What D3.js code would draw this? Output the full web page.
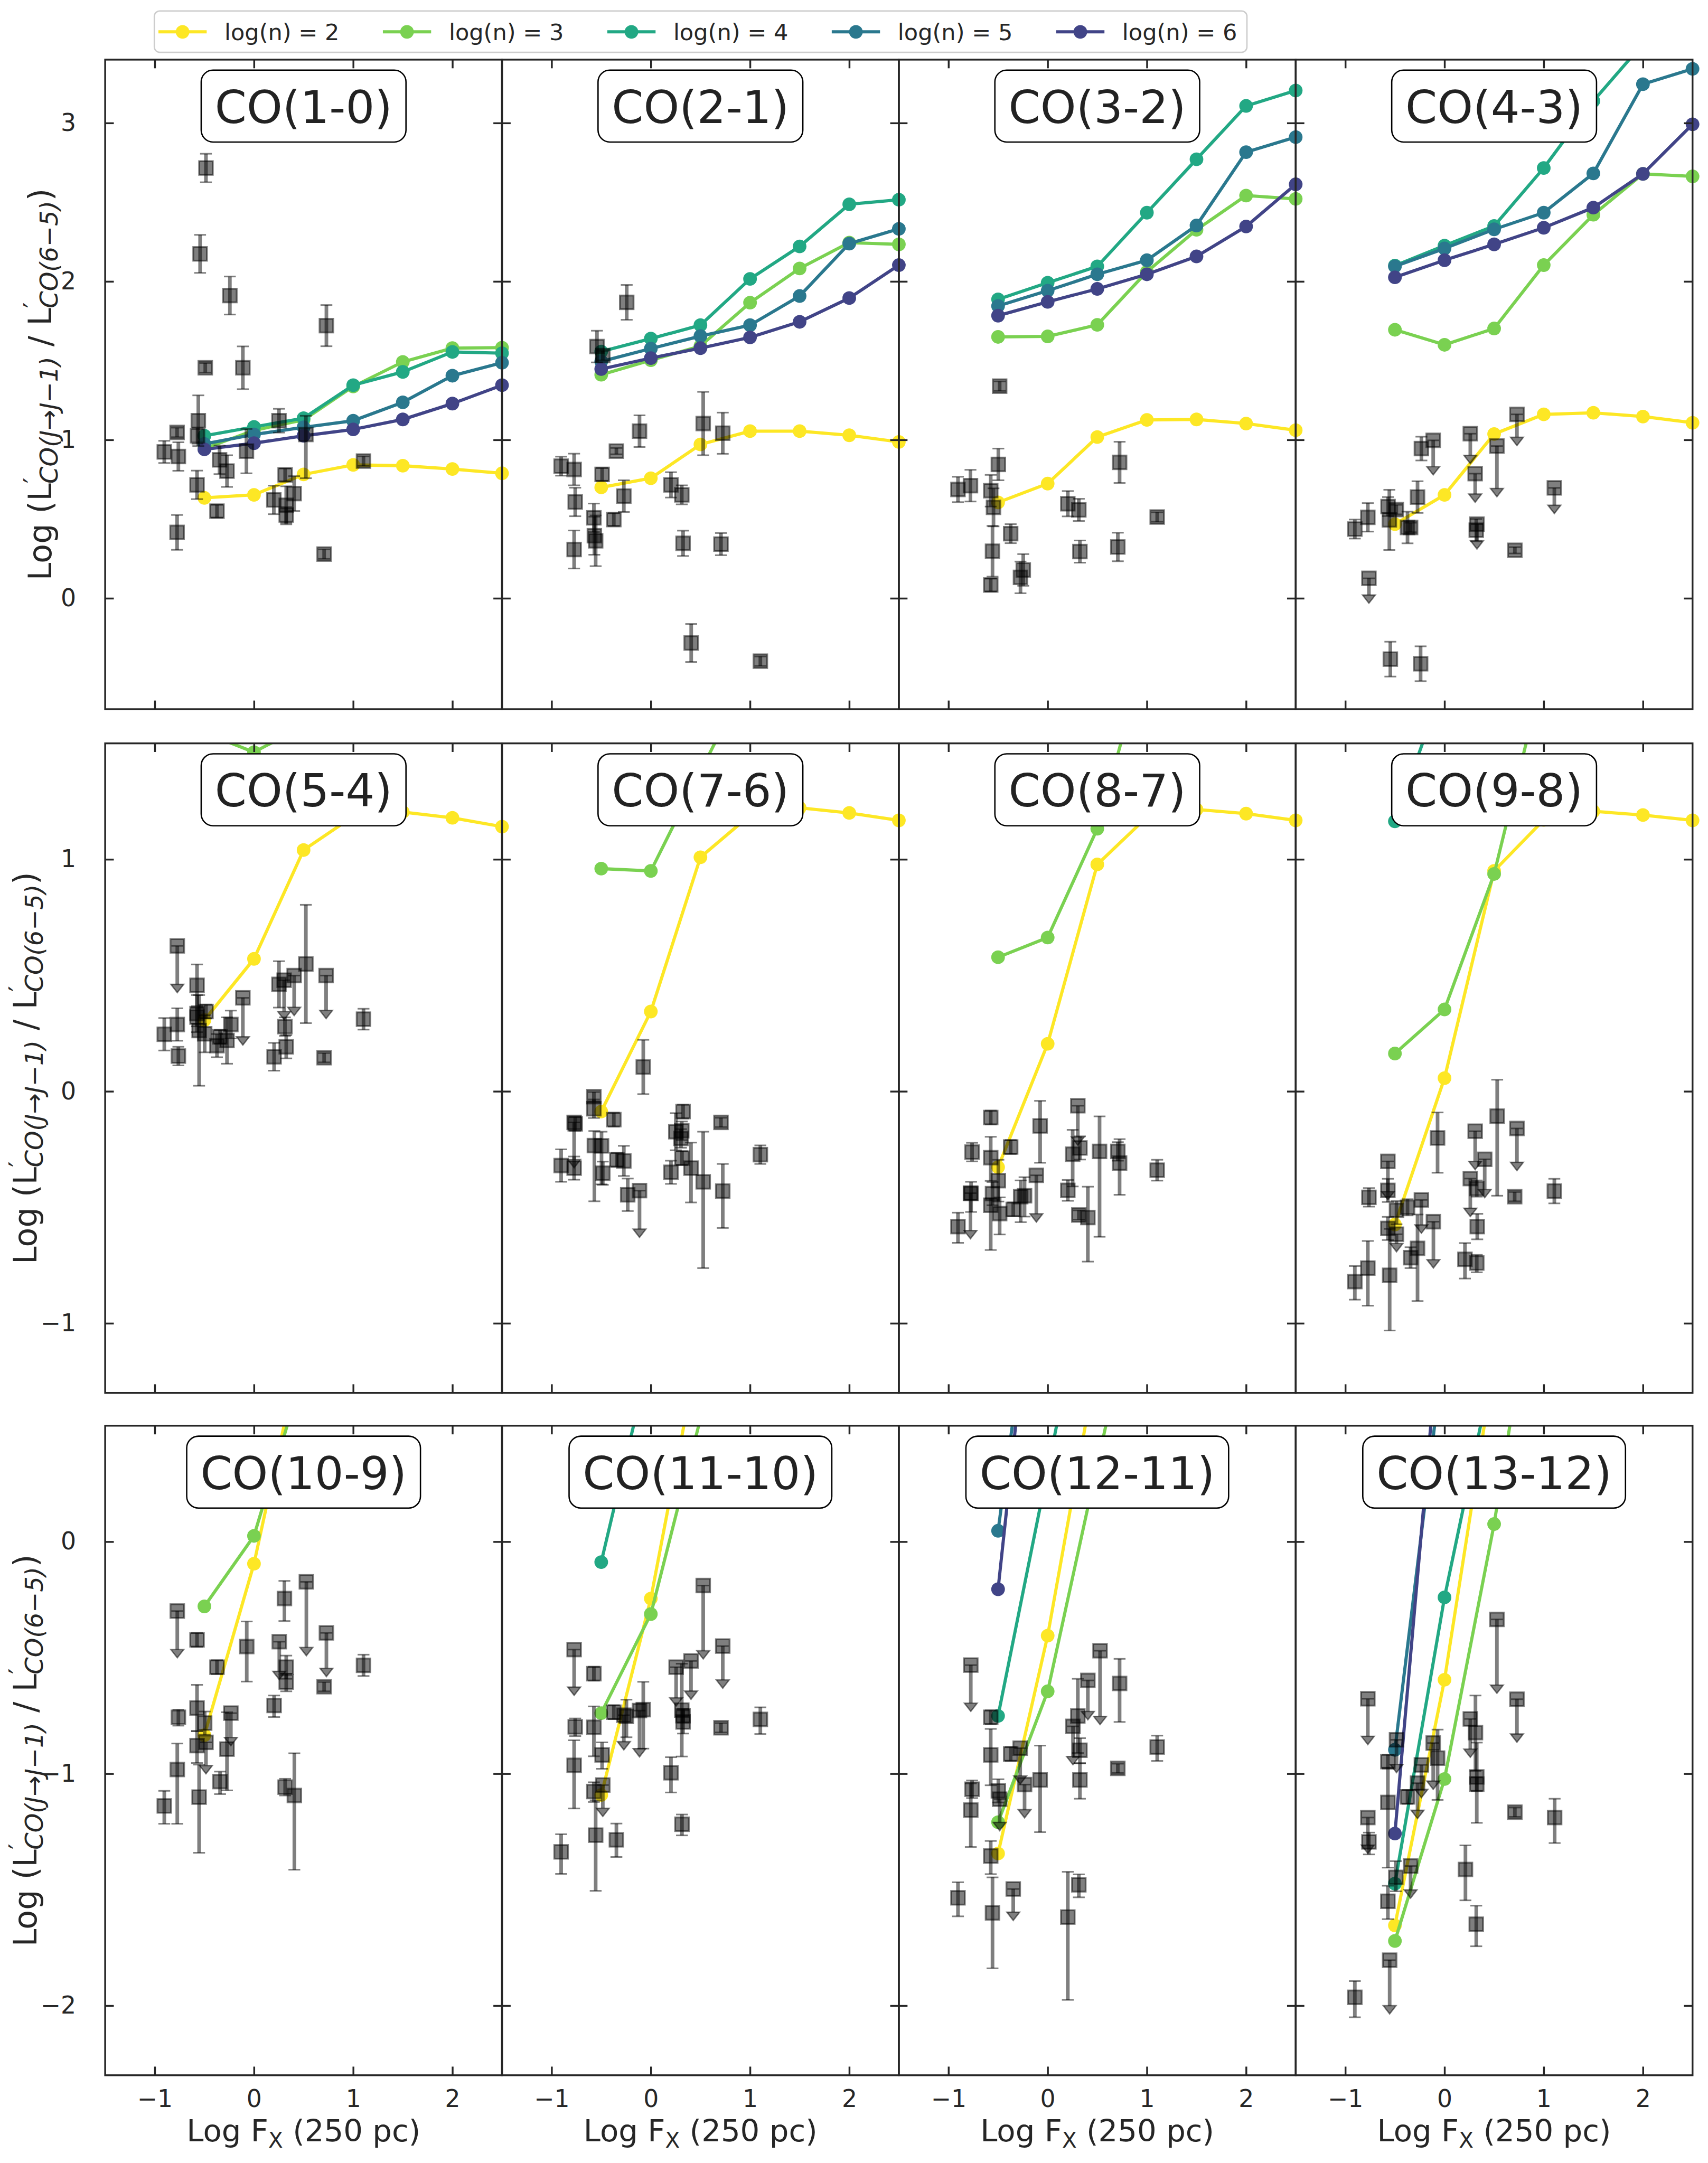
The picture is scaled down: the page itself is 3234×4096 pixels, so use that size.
<!DOCTYPE html>
<html><head><meta charset="utf-8">
<script src="https://cdn.jsdelivr.net/npm/d3@7"></script>
<style>body{margin:0;background:#fff;} text{font-family:"DejaVu Sans",sans-serif;}</style>
</head><body>
<script>
// ---------------- DATA ----------------
const fxModel = [-0.5, 0, 0.5, 1, 1.5, 2, 2.5];
const densityLabels = ["log(n) = 2", "log(n) = 3", "log(n) = 4", "log(n) = 5", "log(n) = 6"];
const panelTitles = ["CO(1-0)", "CO(2-1)", "CO(3-2)", "CO(4-3)", "CO(5-4)", "CO(7-6)", "CO(8-7)", "CO(9-8)",
                     "CO(10-9)", "CO(11-10)", "CO(12-11)", "CO(13-12)"];
const xTicks = [-1, 0, 1, 2];
const yTicksRow = [[0, 1, 2, 3], [-1, 0, 1], [-2, -1, 0]];
const yDomainRow = [[-0.7, 3.4], [-1.3, 1.5], [-2.3, 0.5]];
const N = null;

// model tracks: one row per density log(n)=2..6, values at fxModel
const m_CO10 = [[0.634,0.653,0.782,0.842,0.837,0.816,0.789],[0.945,1.06,1.126,1.337,1.492,1.579,1.582],[1.026,1.082,1.137,1.345,1.429,1.555,1.547],[0.974,1.034,1.079,1.121,1.237,1.405,1.487],[0.94,0.979,1.026,1.066,1.129,1.229,1.345]];
const m_CO21 = [[0.70,0.758,0.971,1.055,1.055,1.029,0.987],[1.411,1.503,1.592,1.866,2.082,2.245,2.234],[1.558,1.639,1.724,2.016,2.221,2.487,2.516],[1.495,1.576,1.655,1.724,1.908,2.239,2.332],[1.447,1.516,1.579,1.647,1.745,1.895,2.103]];
const m_CO32 = [[0.605,0.724,1.018,1.126,1.129,1.103,1.061],[1.65,1.653,1.726,2.061,2.326,2.542,2.521],[1.887,1.992,2.095,2.434,2.771,3.108,3.205],[1.845,1.942,2.045,2.134,2.353,2.816,2.911],[1.784,1.871,1.953,2.045,2.158,2.347,2.613]];
const m_CO43 = [[0.468,0.653,1.037,1.161,1.171,1.147,1.108],[1.695,1.60,1.703,2.103,2.421,2.679,2.663],[2.10,2.226,2.35,2.716,3.139,3.50,3.60],[2.095,2.208,2.329,2.434,2.682,3.245,3.342],[2.026,2.134,2.234,2.339,2.466,2.679,2.992]];
const m_CO54 = [[0.307,0.571,1.04,1.185,1.204,1.179,1.141],[1.546,1.462,1.575,N,N,N,N],[N,N,N,N,N,N,N],[N,N,N,N,N,N,N],[N,N,N,N,N,N,N]];
const m_CO76 = [[-0.087,0.344,1.009,1.19,1.222,1.20,1.168],[0.96,0.95,1.379,1.80,N,N,N],[N,N,N,N,N,N,N],[N,N,N,N,N,N,N],[N,N,N,N,N,N,N]];
const m_CO87 = [[-0.327,0.205,0.978,1.182,1.215,1.197,1.168],[0.578,0.663,1.132,1.907,N,N,N],[N,N,N,N,N,N,N],[N,N,N,N,N,N,N],[N,N,N,N,N,N,N]];
const m_CO98 = [[-0.574,0.057,0.95,1.17,1.207,1.191,1.168],[0.163,0.353,0.937,1.81,N,N,N],[1.164,1.768,N,N,N,N,N],[N,N,N,N,N,N,N],[N,N,N,N,N,N,N]];
const m_CO109 = [[-0.834,-0.095,0.888,N,N,N,N],[-0.279,0.025,0.735,N,N,N,N],[N,N,N,N,N,N,N],[N,N,N,N,N,N,N],[N,N,N,N,N,N,N]];
const m_CO1110 = [[-1.092,-0.245,0.874,N,N,N,N],[-0.739,-0.312,0.53,N,N,N,N],[-0.088,0.814,N,N,N,N,N],[N,N,N,N,N,N,N],[N,N,N,N,N,N,N]];
const m_CO1211 = [[-1.344,-0.405,0.787,N,N,N,N],[-1.209,-0.645,0.333,1.30,N,N,N],[-0.751,0.31,1.366,N,N,N,N],[0.047,1.627,N,N,N,N,N],[-0.205,1.786,N,N,N,N,N]];
const m_CO1312 = [[-1.654,-0.595,0.771,N,N,N,N],[-1.721,-1.023,0.076,1.414,N,N,N],[-1.474,-0.24,0.778,N,N,N,N],[-0.897,0.85,N,N,N,N,N],[-1.258,1.175,N,N,N,N,N]];

// observations: [logFx, value, errDown, errUp, upperLimit]
const obs_CO10 = [[-0.484,2.716,0.09,0.09,0],[-0.543,2.174,0.12,0.12,0],[-0.243,1.911,0.12,0.12,0],[0.730,1.721,0.13,0.13,0],[-0.491,1.455,0.03,0.03,0],[-0.112,1.455,0.135,0.135,0],[-0.561,1.121,0.16,0.16,0],[-0.569,1.026,0.05,0.05,0],[-0.775,1.047,0.03,0.03,0],[-0.904,0.924,0.07,0.07,0],[-0.762,0.895,0.09,0.09,0],[-0.076,0.929,0.14,0.14,0],[0.252,1.121,0.075,0.075,0],[0.523,1.034,0.276,0.118,0],[-0.347,0.874,0.09,0.09,0],[-0.272,0.803,0.1,0.1,0],[-0.574,0.716,0.09,0.09,0],[-0.373,0.55,0.04,0.04,0],[-0.775,0.416,0.11,0.11,0],[0.314,0.779,0.04,0.04,0],[0.2,0.621,0.09,0.09,0],[0.325,0.587,0.12,0.12,0],[0.325,0.526,0.05,0.05,0],[0.405,0.661,0.11,0.11,0],[1.104,0.866,0.03,0.03,0],[0.707,0.279,0.03,0.03,0]];
const obs_CO21 = [[-0.243,1.868,0.11,0.11,0],[-0.543,1.589,0.1,0.1,0],[-0.484,1.532,0.03,0.03,0],[0.528,1.103,0.2,0.2,0],[0.725,1.042,0.13,0.13,0],[-0.114,1.055,0.1,0.1,0],[-0.347,0.929,0.02,0.02,0],[-0.904,0.834,0.06,0.06,0],[-0.773,0.813,0.1,0.1,0],[-0.491,0.782,0.04,0.04,0],[-0.762,0.608,0.09,0.09,0],[-0.272,0.645,0.1,0.1,0],[0.203,0.716,0.08,0.08,0],[0.312,0.653,0.06,0.06,0],[-0.373,0.497,0.04,0.04,0],[-0.574,0.508,0.09,0.09,0],[-0.569,0.395,0.12,0.12,0],[-0.556,0.363,0.16,0.16,0],[-0.773,0.308,0.12,0.12,0],[0.325,0.347,0.08,0.08,0],[0.707,0.342,0.07,0.07,0],[0.407,-0.282,0.12,0.12,0],[1.104,-0.397,0.03,0.03,0]];
const obs_CO32 = [[-0.484,1.339,0.03,0.03,0],[-0.497,0.845,0.1,0.1,0],[0.725,0.858,0.13,0.13,0],[-0.904,0.687,0.08,0.08,0],[-0.778,0.711,0.1,0.1,0],[-0.574,0.679,0.1,0.1,0],[-0.546,0.574,0.12,0.12,0],[0.203,0.597,0.08,0.08,0],[0.314,0.558,0.07,0.07,0],[1.104,0.513,0.03,0.03,0],[-0.373,0.408,0.06,0.06,0],[-0.556,0.297,0.16,0.16,0],[0.325,0.295,0.07,0.07,0],[0.707,0.324,0.09,0.09,0],[-0.246,0.179,0.1,0.1,0],[-0.274,0.132,0.1,0.1,0],[-0.574,0.084,0.04,0.04,0]];
const obs_CO43 = [[0.730,1.161,0.145,0,1],[-0.114,0.997,0.166,0,1],[-0.233,0.945,0.075,0.075,0],[0.260,1.039,0.137,0,1],[0.528,0.961,0.268,0,1],[0.309,0.787,0.129,0,1],[1.107,0.697,0.11,0,1],[-0.272,0.639,0.1,0.1,0],[-0.904,0.437,0.06,0.06,0],[-0.773,0.511,0.09,0.09,0],[-0.569,0.579,0.06,0.06,0],[-0.486,0.56,0.03,0.03,0],[-0.556,0.495,0.19,0.19,0],[-0.373,0.447,0.1,0.1,0],[-0.342,0.447,0.03,0.03,0],[0.327,0.468,0.105,0,1],[0.32,0.43,0.07,0.07,0],[0.709,0.303,0.02,0.02,0],[-0.762,0.126,0.105,0,1],[-0.546,-0.384,0.11,0.11,0],[-0.241,-0.413,0.11,0.11,0]];
const obs_CO54 = [[-0.773,0.627,0.166,0,1],[-0.574,0.457,0.09,0.09,0],[0.523,0.549,0.255,0.255,0],[0.252,0.461,0.1,0.1,0],[0.304,0.479,0.135,0,1],[0.405,0.499,0.137,0,1],[0.727,0.499,0.15,0,1],[-0.112,0.403,0.168,0,1],[-0.574,0.335,0.08,0.08,0],[-0.484,0.344,0.03,0.03,0],[-0.574,0.32,0.04,0.04,0],[-0.904,0.246,0.07,0.07,0],[-0.773,0.288,0.07,0.07,0],[-0.762,0.152,0.04,0.04,0],[-0.553,0.262,0.238,0.153,0],[-0.497,0.248,0.08,0.08,0],[-0.373,0.197,0.05,0.05,0],[-0.342,0.235,0.03,0.03,0],[-0.272,0.219,0.1,0.1,0],[-0.233,0.288,0.06,0.06,0],[0.312,0.279,0.04,0.04,0],[0.325,0.192,0.05,0.05,0],[0.203,0.149,0.06,0.06,0],[0.707,0.145,0.02,0.02,0],[1.104,0.311,0.045,0.045,0]];
const obs_CO76 = [[-0.076,0.105,0.117,0.117,0],[-0.574,-0.023,0.02,0.02,0],[-0.574,-0.075,0.04,0.04,0],[-0.773,-0.134,0.16,0,1],[-0.762,-0.14,0.03,0.03,0],[-0.373,-0.122,0.03,0.03,0],[0.325,-0.087,0.03,0.03,0],[0.707,-0.134,0.02,0.02,0],[0.252,-0.174,0.08,0.08,0],[0.312,-0.17,0.04,0.04,0],[0.304,-0.203,0.04,0.04,0],[-0.569,-0.234,0.24,0.063,0],[-0.497,-0.235,0.166,0.061,0],[-0.904,-0.32,0.07,0.07,0],[-0.773,-0.331,0.05,0.05,0],[-0.484,-0.353,0.05,0.05,0],[-0.342,-0.295,0.03,0.03,0],[-0.272,-0.3,0.065,0.065,0],[-0.233,-0.446,0.07,0.07,0],[-0.114,-0.428,0.166,0,1],[0.203,-0.349,0.05,0.05,0],[0.314,-0.288,0.03,0.03,0],[0.405,-0.331,0.148,0.11,0],[0.528,-0.39,0.372,0.216,0],[0.725,-0.43,0.159,0.117,0],[1.104,-0.273,0.04,0.04,0]];
const obs_CO87 = [[-0.574,-0.113,0.03,0.03,0],[-0.076,-0.149,0.159,0.108,0],[0.304,-0.062,0.135,0,1],[0.523,-0.259,0.368,0.151,0],[-0.762,-0.262,0.04,0.04,0],[-0.373,-0.24,0.03,0.03,0],[-0.574,-0.286,0.1,0.09,0],[0.252,-0.271,0.139,0.105,0],[0.325,-0.244,0.05,0.05,0],[0.707,-0.259,0.04,0.04,0],[0.725,-0.309,0.137,0.103,0],[1.104,-0.34,0.045,0.045,0],[-0.497,-0.385,0.09,0.09,0],[-0.114,-0.362,0.166,0,1],[-0.778,-0.439,0.161,0,1],[-0.772,-0.44,0.08,0.05,0],[-0.556,-0.441,0.05,0.05,0],[-0.574,-0.491,0.193,0.03,0],[-0.484,-0.527,0.09,0.07,0],[-0.347,-0.509,0.03,0.03,0],[-0.272,-0.454,0.11,0.07,0],[-0.233,-0.45,0.09,0.08,0],[0.203,-0.427,0.045,0.045,0],[-0.904,-0.583,0.07,0.06,0],[0.314,-0.533,0.02,0.02,0],[0.405,-0.544,0.19,0.133,0]];
const obs_CO98 = [[0.531,-0.107,0.343,0.157,0],[-0.07,-0.201,0.15,0.11,0],[0.309,-0.172,0.13,0,1],[0.730,-0.16,0.146,0,1],[0.405,-0.293,0.13,0,1],[-0.571,-0.302,0.13,0,1],[0.26,-0.376,0.128,0,1],[-0.762,-0.457,0.04,0.04,0],[-0.571,-0.427,0.05,0.05,0],[0.707,-0.454,0.02,0.02,0],[1.107,-0.43,0.053,0.053,0],[0.325,-0.419,0.035,0.035,0],[-0.484,-0.513,0.06,0.04,0],[-0.373,-0.5,0.035,0.035,0],[-0.233,-0.468,0.108,0,1],[-0.112,-0.562,0.164,0,1],[-0.571,-0.591,0.05,0.05,0],[-0.484,-0.616,0.04,0,1],[0.33,-0.583,0.055,0.055,0],[-0.272,-0.677,0.227,0.146,0],[-0.342,-0.717,0.045,0.045,0],[0.206,-0.724,0.083,0.07,0],[0.325,-0.74,0.04,0.035,0],[-0.773,-0.762,0.162,0.117,0],[-0.904,-0.82,0.078,0.067,0],[-0.553,-0.793,0.238,0.2,0]];
const obs_CO109 = [[0.528,-0.173,0.283,0,1],[0.307,-0.245,0.097,0.076,0],[-0.773,-0.299,0.166,0,1],[0.73,-0.393,0.153,0,1],[-0.574,-0.423,0.03,0.03,0],[-0.073,-0.452,0.151,0.108,0],[0.255,-0.431,0.128,0,1],[1.104,-0.533,0.046,0.046,0],[-0.373,-0.541,0.03,0.03,0],[0.325,-0.541,0.05,0.05,0],[0.325,-0.605,0.04,0.035,0],[0.707,-0.625,0.02,0.02,0],[0.203,-0.706,0.05,0.043,0],[-0.574,-0.717,0.1,0.1,0],[-0.762,-0.757,0.036,0.033,0],[-0.497,-0.782,0.05,0.05,0],[-0.233,-0.739,0.105,0,1],[-0.484,-0.865,0.1,0,1],[-0.574,-0.879,0.075,0.063,0],[-0.272,-0.894,0.178,0.159,0],[-0.773,-0.982,0.234,0.112,0],[-0.342,-1.034,0.054,0.043,0],[-0.904,-1.139,0.077,0.065,0],[-0.553,-1.101,0.24,0.14,0],[0.314,-1.058,0.036,0.036,0],[0.407,-1.094,0.32,0.182,0]];
const obs_CO1110 = [[0.528,-0.189,0.281,0,1],[0.725,-0.45,0.146,0,1],[-0.773,-0.465,0.162,0,1],[-0.574,-0.569,0.03,0.03,0],[0.255,-0.541,0.132,0,1],[0.405,-0.514,0.13,0,1],[0.312,-0.726,0.2,0.2,0],[0.325,-0.777,0.05,0.05,0],[0.325,-0.75,0.03,0.03,0],[-0.373,-0.735,0.03,0.03,0],[-0.076,-0.724,0.168,0.12,0],[-0.114,-0.728,0.164,0,1],[-0.272,-0.748,0.114,0,1],[-0.246,-0.753,0.09,0.072,0],[-0.762,-0.798,0.04,0.036,0],[-0.574,-0.8,0.125,0.09,0],[0.707,-0.802,0.02,0.02,0],[1.104,-0.766,0.063,0.052,0],[-0.491,-0.919,0.06,0.054,0],[-0.773,-0.964,0.186,0.108,0],[0.203,-0.996,0.085,0.067,0],[-0.574,-1.077,0.045,0.04,0],[-0.484,-1.049,0.1,0,1],[0.314,-1.218,0.048,0.042,0],[-0.556,-1.265,0.24,0.15,0],[-0.347,-1.285,0.074,0.07,0],[-0.904,-1.337,0.095,0.076,0]];
const obs_CO1211 = [[0.528,-0.47,0.283,0,1],[-0.775,-0.532,0.164,0,1],[0.405,-0.598,0.134,0,1],[0.725,-0.611,0.166,0.106,0],[0.304,-0.751,0.16,0.16,0],[0.255,-0.796,0.13,0,1],[-0.574,-0.757,0.03,0.03,0],[-0.574,-0.919,0.131,0.112,0],[-0.373,-0.915,0.03,0.03,0],[-0.277,-0.89,0.12,0,1],[0.325,-0.899,0.056,0.052,0],[1.104,-0.885,0.06,0.049,0],[0.707,-0.977,0.02,0.02,0],[0.325,-1.027,0.081,0.072,0],[-0.076,-1.027,0.225,0.148,0],[-0.233,-1.047,0.108,0,1],[-0.762,-1.067,0.038,0.038,0],[-0.497,-1.074,0.05,0.05,0],[-0.484,-1.11,0.1,0,1],[-0.775,-1.157,0.159,0.115,0],[-0.574,-1.355,0.078,0.065,0],[-0.904,-1.535,0.08,0.067,0],[-0.347,-1.497,0.1,0,1],[0.314,-1.479,0.054,0.045,0],[-0.556,-1.6,0.239,0.153,0],[0.203,-1.618,0.357,0.195,0]];
const obs_CO1312 = [[0.528,-0.335,0.283,0,1],[-0.773,-0.677,0.162,0,1],[0.73,-0.679,0.15,0,1],[0.26,-0.764,0.13,0,1],[0.312,-0.823,0.165,0.16,0],[-0.484,-0.854,0.106,0,1],[-0.114,-0.868,0.164,0,1],[-0.07,-0.933,0.18,0.123,0],[-0.571,-0.948,0.03,0.03,0],[-0.571,-1.124,0.281,0.15,0],[-0.233,-0.962,0.106,0,1],[-0.272,-1.041,0.117,0,1],[0.325,-1.014,0.198,0.148,0],[0.325,-1.045,0.03,0.03,0],[-0.373,-1.1,0.03,0.03,0],[0.709,-1.166,0.02,0.02,0],[1.11,-1.189,0.11,0.081,0],[-0.773,-1.189,0.119,0,1],[-0.762,-1.294,0.054,0.04,0],[0.211,-1.413,0.133,0.104,0],[-0.342,-1.398,0.103,0,1],[-0.491,-1.447,0.06,0.07,0],[-0.571,-1.55,0.077,0.067,0],[0.32,-1.649,0.095,0.08,0],[-0.553,-1.804,0.196,0,1],[-0.904,-1.964,0.086,0.07,0]];

const panelModels = [m_CO10, m_CO21, m_CO32, m_CO43, m_CO54, m_CO76, m_CO87, m_CO98, m_CO109, m_CO1110, m_CO1211, m_CO1312];
const panelObs = [obs_CO10, obs_CO21, obs_CO32, obs_CO43, obs_CO54, obs_CO76, obs_CO87, obs_CO98, obs_CO109, obs_CO1110, obs_CO1211, obs_CO1312];

// ---------------- STYLE / LAYOUT (reference pixels, scaled at the end) ----------------
const SCALE = 0.862;
const lineColors = ["#fde725", "#7ad151", "#22a884", "#2a788e", "#414487"];
const INK = "#262626";
const W = 871.7, H = 1427;
const colX = [231, 231 + W, 231 + 2 * W, 231 + 3 * W];
const rowY = [131, 1633, 3132];

const svg = d3.select("body").append("svg").attr("width", 3234).attr("height", 4096)
  .style("background", "#fff");
const defs = svg.append("defs");
const root = svg.append("g").attr("transform", `scale(${SCALE})`);

function styleAxis(g, labels) {
  g.select(".domain").remove();
  g.selectAll(".tick line").attr("stroke", INK).attr("stroke-width", 4);
  g.selectAll(".tick text").attr("fill", INK).attr("font-size", 53)
    .attr("font-family", "DejaVu Sans, sans-serif");
  if (!labels) g.selectAll(".tick text").remove();
}

for (let i = 0; i < 12; i++) {
  const r = Math.floor(i / 4), c = i % 4;
  const x0 = colX[c], y0 = rowY[r];
  const x = d3.scaleLinear().domain([-1.5, 2.5]).range([x0, x0 + W]);
  const y = d3.scaleLinear().domain(yDomainRow[r]).range([y0 + H, y0]);
  const g = root.append("g");

  // clip in the user space of the (scaled) referencing element
  const clipId = "clip" + i;
  defs.append("clipPath").attr("id", clipId).attr("clipPathUnits", "userSpaceOnUse").append("rect")
    .attr("x", x0 - 16).attr("y", y0).attr("width", W + 32).attr("height", H);
  const gm = g.append("g").attr("clip-path", `url(#${clipId})`);

  // model tracks
  panelModels[i].forEach((ser, k) => {
    const pts = fxModel.map((fx, j) => [fx, ser[j]]).filter(d => d[1] !== null);
    if (!pts.length) return;
    const line = d3.line().x(d => x(d[0])).y(d => y(d[1]));
    gm.append("path").attr("d", line(pts)).attr("fill", "none")
      .attr("stroke", lineColors[k]).attr("stroke-width", 7).attr("stroke-linejoin", "round");
    gm.selectAll(null).data(pts).enter().append("circle")
      .attr("cx", d => x(d[0])).attr("cy", d => y(d[1])).attr("r", 15).attr("fill", lineColors[k]);
  });

  // observations
  const go = g.append("g");
  panelObs[i].forEach(([fx, v, lo, hi, ul]) => {
    const cx = x(fx), cy = y(v), yl = y(v - lo), yh = y(v + hi);
    go.append("line").attr("x1", cx).attr("x2", cx).attr("y1", yh).attr("y2", yl)
      .attr("stroke", "#000").attr("stroke-opacity", 0.5).attr("stroke-width", 8);
    const caps = ul ? [cy] : [yh, yl];
    caps.forEach(cc => go.append("line").attr("x1", cx - 13).attr("x2", cx + 13).attr("y1", cc).attr("y2", cc)
      .attr("stroke", "#000").attr("stroke-opacity", 0.5).attr("stroke-width", 3.5));
    if (ul) {
      go.append("path").attr("d", `M${cx - 14},${yl}L${cx + 14},${yl}L${cx},${yl + 18}Z`)
        .attr("fill", "#000").attr("fill-opacity", 0.5)
        .attr("stroke", "#000").attr("stroke-opacity", 0.5).attr("stroke-width", 3);
    }
    go.append("rect").attr("x", cx - 15).attr("y", cy - 15).attr("width", 30).attr("height", 30)
      .attr("fill", "#000").attr("fill-opacity", 0.5)
      .attr("stroke", "#000").attr("stroke-opacity", 0.5).attr("stroke-width", 4);
  });

  // axes (inward ticks on all sides)
  const fmt = d3.format("d");
  const gb = g.append("g").attr("transform", `translate(0,${y0 + H})`)
    .call(d3.axisBottom(x).tickValues(xTicks).tickFormat(fmt).tickSizeInner(-19).tickSizeOuter(0).tickPadding(32));
  styleAxis(gb, r === 2);
  const gt = g.append("g").attr("transform", `translate(0,${y0})`)
    .call(d3.axisTop(x).tickValues(xTicks).tickSizeInner(-19).tickSizeOuter(0));
  styleAxis(gt, false);
  const gl = g.append("g").attr("transform", `translate(${x0},0)`)
    .call(d3.axisLeft(y).tickValues(yTicksRow[r]).tickFormat(fmt).tickSizeInner(-19).tickSizeOuter(0).tickPadding(64));
  styleAxis(gl, c === 0);
  const gr = g.append("g").attr("transform", `translate(${x0 + W},0)`)
    .call(d3.axisRight(y).tickValues(yTicksRow[r]).tickSizeInner(-19).tickSizeOuter(0));
  styleAxis(gr, false);

  g.append("rect").attr("x", x0).attr("y", y0).attr("width", W).attr("height", H)
    .attr("fill", "none").attr("stroke", INK).attr("stroke-width", 4);

  // title box
  const tb = g.append("g");
  const tt = tb.append("text").attr("x", x0 + W / 2).attr("y", y0 + 23 + 116)
    .attr("text-anchor", "middle").attr("font-size", 100).attr("fill", "#222").text(panelTitles[i]);
  const tw = tt.node().getComputedTextLength();
  tb.insert("rect", "text").attr("x", x0 + W / 2 - tw / 2 - 30).attr("y", y0 + 23)
    .attr("width", tw + 60).attr("height", 158).attr("rx", 26).attr("ry", 26)
    .attr("fill", "#fff").attr("stroke", "#000").attr("stroke-width", 3);
}

// axis labels
function yLabel(bx, cy) {
  const t = root.append("text").attr("transform", `translate(${bx},${cy}) rotate(-90)`)
    .attr("text-anchor", "middle").attr("font-size", 70).attr("fill", INK);
  t.append("tspan").text("Log (L");
  t.append("tspan").attr("font-size", 54).attr("dy", -22).text("′");
  t.append("tspan").attr("font-size", 54).attr("font-style", "italic").attr("dx", -13).attr("dy", 36).text("CO(J→J−1)");
  t.append("tspan").attr("dy", -14).text(" / L");
  t.append("tspan").attr("font-size", 54).attr("dy", -22).text("′");
  t.append("tspan").attr("font-size", 54).attr("font-style", "italic").attr("dx", -13).attr("dy", 36).text("CO(6−5)");
  t.append("tspan").attr("dy", -14).text(")");
}
yLabel(112, rowY[0] + H / 2);
yLabel(80, rowY[1] + H / 2);
yLabel(80, rowY[2] + H / 2);

function xLabel(cx) {
  const t = root.append("text").attr("x", cx).attr("y", rowY[2] + H + 145)
    .attr("text-anchor", "middle").attr("font-size", 67).attr("fill", INK);
  t.append("tspan").text("Log F");
  t.append("tspan").attr("font-size", 47).attr("dy", 14).text("X");
  t.append("tspan").attr("dy", -14).text(" (250 pc)");
}
colX.forEach(cx => xLabel(cx + W / 2));

// legend
const lg = root.append("g");
lg.append("rect").attr("x", 339).attr("y", 24).attr("width", 2400).attr("height", 91).attr("rx", 12)
  .attr("fill", "#fff").attr("fill-opacity", 0.8).attr("stroke", "#ccc").attr("stroke-width", 3);
densityLabels.forEach((lab, k) => {
  const ox = 348 + k * 493;
  lg.append("line").attr("x1", ox).attr("x2", ox + 106).attr("y1", 70).attr("y2", 70)
    .attr("stroke", lineColors[k]).attr("stroke-width", 7);
  lg.append("circle").attr("cx", ox + 53).attr("cy", 70).attr("r", 15).attr("fill", lineColors[k]);
  lg.append("text").attr("x", ox + 145).attr("y", 88).attr("font-size", 50).attr("fill", INK).text(lab);
});
</script>
</body></html>
